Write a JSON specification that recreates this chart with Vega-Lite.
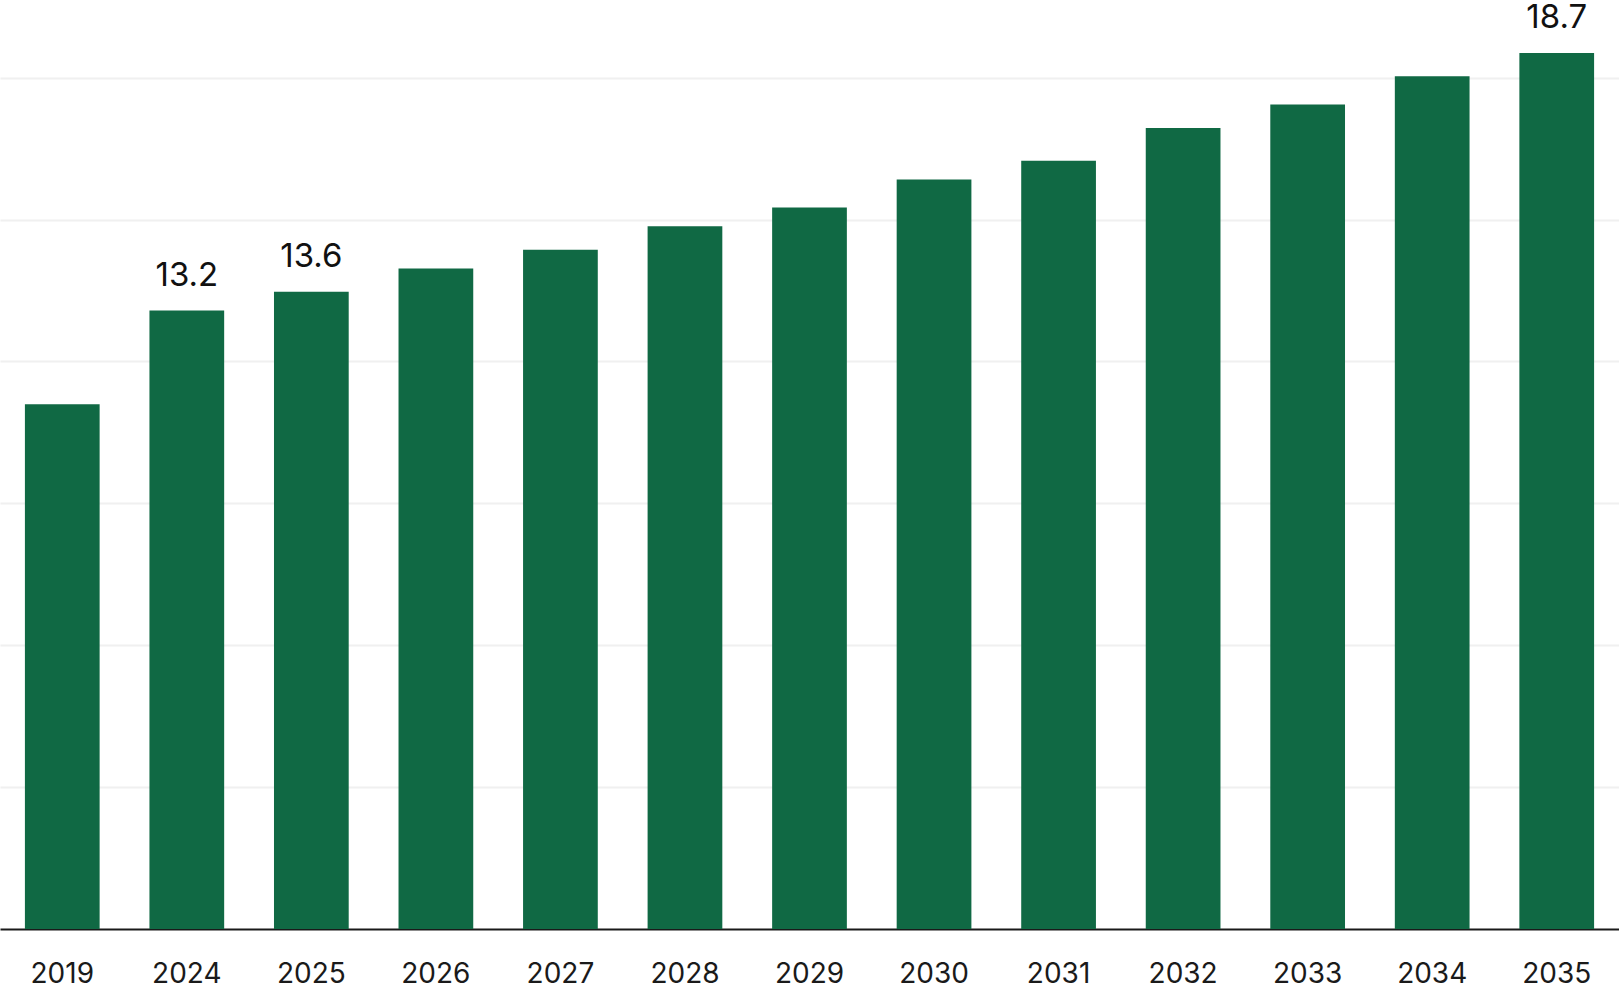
{
  "$schema": "https://vega.github.io/schema/vega-lite/v6.json",
  "width": 1619,
  "height": 929,
  "autosize": {"type": "none"},
  "padding": {"left": 0, "right": 0, "top": 0, "bottom": 73},
  "background": "white",
  "config": {"view": {"stroke": null}, "font": "Inter"},
  "data": {
    "values": [
      {"year": "2019", "value": 11.2, "label": ""},
      {"year": "2024", "value": 13.2, "label": "13.2"},
      {"year": "2025", "value": 13.6, "label": "13.6"},
      {"year": "2026", "value": 14.1, "label": ""},
      {"year": "2027", "value": 14.5, "label": ""},
      {"year": "2028", "value": 15.0, "label": ""},
      {"year": "2029", "value": 15.4, "label": ""},
      {"year": "2030", "value": 16.0, "label": ""},
      {"year": "2031", "value": 16.4, "label": ""},
      {"year": "2032", "value": 17.1, "label": ""},
      {"year": "2033", "value": 17.6, "label": ""},
      {"year": "2034", "value": 18.2, "label": ""},
      {"year": "2035", "value": 18.7, "label": "18.7"}
    ]
  },
  "encoding": {
    "x": {
      "field": "year",
      "type": "ordinal",
      "scale": {"paddingInner": 0.4, "paddingOuter": 0.2},
      "axis": {
        "title": null,
        "labelAngle": 0,
        "labelFontSize": 28,
        "labelColor": "#1a1a1a",
        "labelPadding": 31,
        "ticks": false,
        "domainColor": "#1a1a1a",
        "domainWidth": 2,
        "grid": false
      }
    },
    "y": {
      "field": "value",
      "type": "quantitative",
      "scale": {"domain": [0, 19.83], "nice": false},
      "axis": {
        "title": null,
        "labels": false,
        "ticks": false,
        "domain": false,
        "values": [3.03, 6.06, 9.09, 12.12, 15.14, 18.17],
        "gridColor": "#f0f0f0",
        "gridWidth": 2
      }
    }
  },
  "layer": [
    {"mark": {"type": "bar", "color": "#106944"}},
    {
      "mark": {
        "type": "text",
        "baseline": "alphabetic",
        "dy": -25,
        "fontSize": 33,
        "color": "#111111"
      },
      "encoding": {"text": {"field": "label"}}
    }
  ]
}
